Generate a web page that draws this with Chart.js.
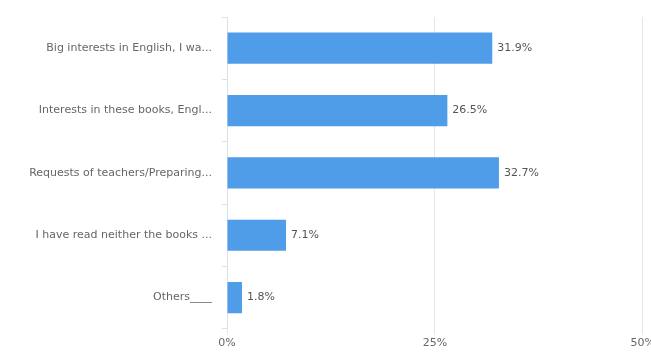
<!DOCTYPE html>
<html>
<head>
<meta charset="utf-8">
<script src="https://cdn.jsdelivr.net/npm/chart.js@4.4.0/dist/chart.umd.min.js"></script>
<style>
  html, body { margin: 0; padding: 0; background: #fff; overflow: hidden; }
  #wrap { width: 657px; height: 352px; }
</style>
</head>
<body>
<div id="wrap"><canvas id="chart"></canvas></div>
<script>
const labels = [
    "Big interests in English, I wa...",
    "Interests in these books, Engl...",
    "Requests of teachers/Preparing...",
    "I have read neither the books ...",
    "Others____"
];
const percents = [31.9, 26.5, 32.7, 7.1, 1.8];
const xTicks = [0, 25, 50];

// writes "31.9%" etc. just past the end of each bar
const valueLabels = {
    id: "valueLabels",
    afterDatasetsDraw(chart) {
        const ctx = chart.ctx;
        const meta = chart.getDatasetMeta(0);
        ctx.save();
        ctx.font = "11px 'DejaVu Sans'";
        ctx.fillStyle = "#555";
        ctx.textAlign = "left";
        ctx.textBaseline = "middle";
        meta.data.forEach((bar, i) => {
            ctx.fillText(percents[i].toFixed(1) + "%", bar.x + 5, bar.y);
        });
        ctx.restore();
    }
};

new Chart(document.getElementById("chart"), {
    type: "bar",
    data: {
        labels: labels,
        datasets: [{
            data: percents,
            backgroundColor: "#4f9de8",
            categoryPercentage: 1.0,
            barPercentage: 0.5
        }]
    },
    options: {
        indexAxis: "y",
        responsive: true,
        maintainAspectRatio: false,
        animation: false,
        layout: { padding: { top: 17, bottom: 0, left: 0, right: 0 } },
        plugins: {
            legend: { display: false },
            tooltip: { enabled: false }
        },
        scales: {
            x: {
                min: 0,
                max: 50,
                afterBuildTicks(axis) {
                    axis.ticks = xTicks.map(v => ({ value: v }));
                },
                border: { display: false },
                grid: { color: "#e6e6e6", tickLength: 6 },
                ticks: {
                    color: "#666",
                    font: { family: "DejaVu Sans", size: 11 },
                    padding: 2,
                    callback: v => v + "%"
                }
            },
            y: {
                afterFit(axis) { axis.width = 227; },
                border: { display: true, color: "#d6e2ee" },
                grid: { drawOnChartArea: false, color: "#e0e0e0", tickLength: 5, offset: true },
                ticks: {
                    color: "#666",
                    font: { family: "DejaVu Sans", size: 11 },
                    padding: 10
                }
            }
        }
    },
    plugins: [valueLabels]
});
</script>
</body>
</html>
